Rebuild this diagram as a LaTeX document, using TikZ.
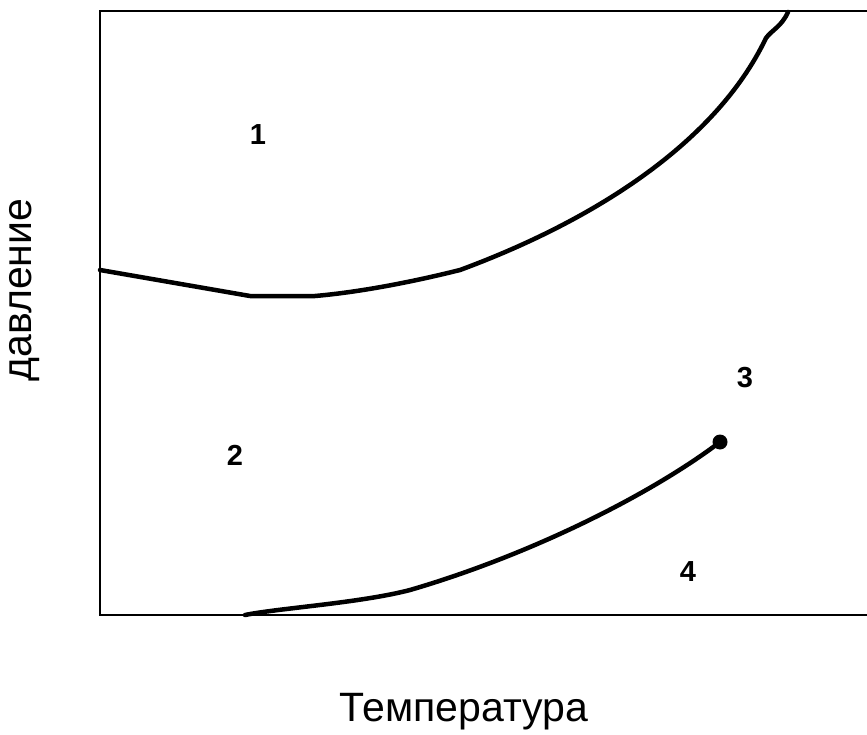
\documentclass[tikz,border=0pt]{standalone}
\usepackage{fontspec}
\setmainfont{Liberation Sans}
\begin{document}
\begin{tikzpicture}[x=1pt,y=-1pt,
  curve/.style={line width=4.5pt,line cap=round,line join=round},
  frame/.style={line width=2.4pt},
  num/.style={font=\fontsize{29}{29}\selectfont\bfseries,inner sep=0pt},
  axis/.style={font=\fontsize{41}{41}\selectfont,inner sep=0pt}]
\useasboundingbox (0,0) rectangle (867,735);
\draw[frame] (867,11) -- (100,11) -- (100,615) -- (867,615);
\coordinate (a0) at (100,270);
\coordinate (a1) at (788,12);
\draw[curve] (a0) -- (250,296) -- (315,296) .. controls (350,293) and (400,285) .. (460,270)
  .. controls (590,222) and (715,145) .. (766,38)
  .. controls (772,30) and (782,26) .. (a1);
\coordinate (b0) at (245,615);
\node[circle,fill=black,inner sep=0pt,minimum size=15pt] (dot) at (720,442) {};
\draw[curve] (b0) .. controls (280,608) and (360,603) .. (410,590)
  .. controls (530,555) and (650,495) .. (dot.center);
\node[num] (n1) at (258,135) {1};
\node[num] (n2) at (235,455) {2};
\node[num] (n3) at (745,378) {3};
\node[num] (n4) at (688,572) {4};
\node[axis,rotate=90] (yl) at (25,290) {давление};
\node[axis] (xl) at (464,712) {Температура};
\end{tikzpicture}
\end{document}
